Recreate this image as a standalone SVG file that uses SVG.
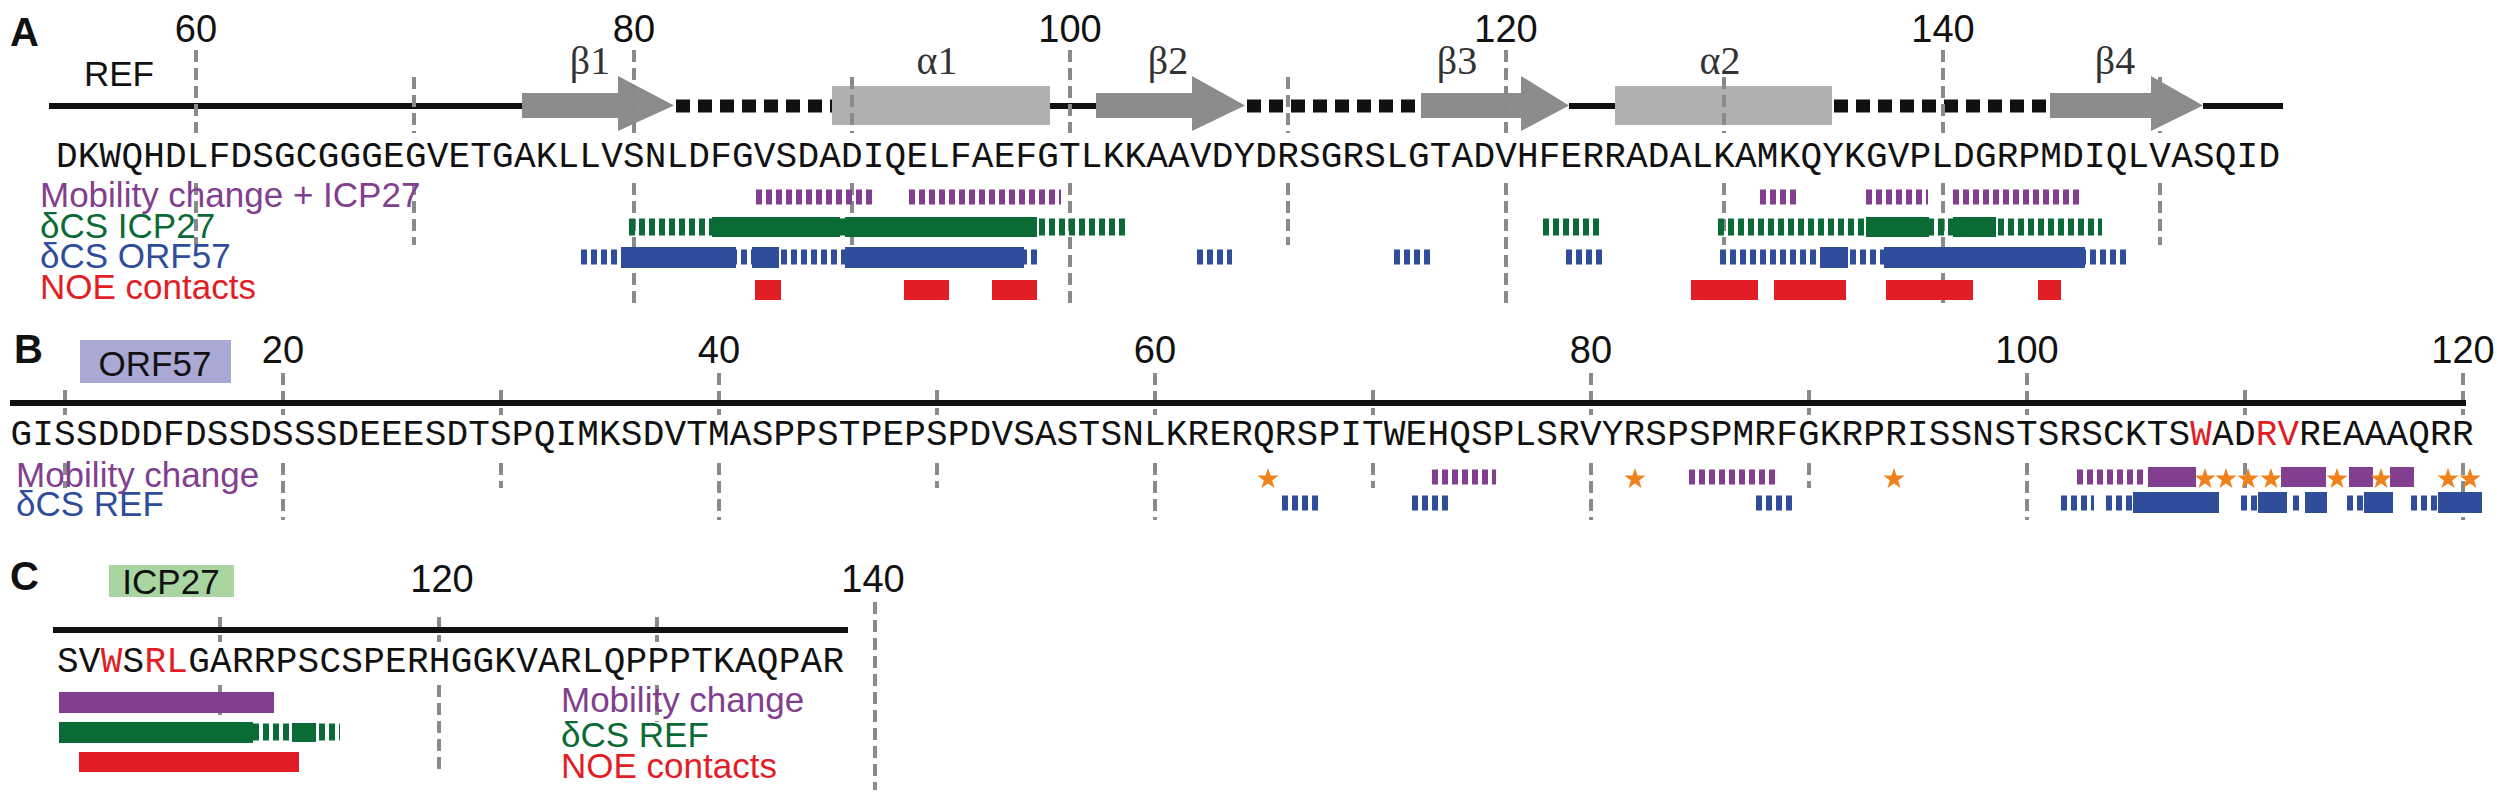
<svg xmlns="http://www.w3.org/2000/svg" width="2507" height="800" viewBox="0 0 2507 800">
<style>
.pl{font-family:"Liberation Sans",Arial,sans-serif;font-weight:bold;font-size:40px;fill:#111}
.num{font-family:"Liberation Sans",Arial,sans-serif;font-size:38px;fill:#111;text-anchor:middle}
.lab{font-family:"Liberation Sans",Arial,sans-serif;font-size:35px}
.gk{font-family:"Liberation Serif","Times New Roman",serif;font-size:40px;fill:#333;text-anchor:middle}
.seq{font-family:"Liberation Mono","Courier New",monospace;font-size:36px;fill:#111}
.grid{stroke:#8a8a8a;stroke-width:4;stroke-dasharray:12 6;fill:none}
.bb{stroke:#111;stroke-width:6}
.loop{stroke:#111;stroke-width:13;stroke-dasharray:14 8}
.beta{fill:#8c8c8c}
.alpha{fill:#b0b0b0}
.pu{fill:#833f8f}.gr{fill:#0b6b36}.bl{fill:#2f4d9a}.rd{fill:#e21d25}
.dpu{stroke:#833f8f;stroke-width:15;stroke-dasharray:6 4}
.dgr{stroke:#0b6b36;stroke-width:17;stroke-dasharray:6 4}
.dbl{stroke:#2f4d9a;stroke-width:15;stroke-dasharray:6 4}
.star{fill:#f0821e}
</style>
<defs>
<path id="st" d="M0,-11 L2.6,-3.6 10.5,-3.4 4.2,1.4 6.5,8.9 0,4.4 -6.5,8.9 -4.2,1.4 -10.5,-3.4 -2.6,-3.6Z"/>
</defs>

<g id="panelA">
<text class="pl" x="10" y="46">A</text>
<text class="num" x="196" y="42">60</text>
<text class="num" x="634" y="42">80</text>
<text class="num" x="1070" y="42">100</text>
<text class="num" x="1506" y="42">120</text>
<text class="num" x="1943" y="42">140</text>
<text class="lab" x="84" y="86" font-size="40" fill="#111">REF</text>
<g id="A-structure">
<line class="bb" x1="49" y1="106" x2="522" y2="106"/>
<line class="bb" x1="1050" y1="106" x2="1096" y2="106"/>
<line class="bb" x1="1569" y1="106" x2="1615" y2="106"/>
<line class="bb" x1="2203" y1="106" x2="2283" y2="106"/>
<line class="loop" x1="676" y1="106" x2="832" y2="106"/>
<line class="loop" x1="1247" y1="106" x2="1421" y2="106"/>
<line class="loop" x1="1834" y1="106" x2="2050" y2="106"/>
<polygon class="beta" points="522,93 618,93 618,76 674,105.5 618,131 618,118 522,118"/>
<polygon class="beta" points="1096,93 1192,93 1192,76 1245,105.5 1192,131 1192,118 1096,118"/>
<polygon class="beta" points="1421,93 1521,93 1521,76 1569,105.5 1521,131 1521,118 1421,118"/>
<polygon class="beta" points="2050,93 2151,93 2151,76 2203,105.5 2151,131 2151,118 2050,118"/>
<rect class="alpha" x="832" y="86" width="218" height="39"/>
<rect class="alpha" x="1615" y="86" width="217" height="39"/>
<text class="gk" x="590" y="74">β1</text>
<text class="gk" x="937" y="74">α1</text>
<text class="gk" x="1168" y="74">β2</text>
<text class="gk" x="1457" y="74">β3</text>
<text class="gk" x="1720" y="74">α2</text>
<text class="gk" x="2115" y="74">β4</text>
</g>
<g id="A-grid">
<path class="grid" d="M196,50V133M196,183V245M414,77V133M414,183V245M634,50V133M634,183V307M852,77V133M852,183V245M1070,50V133M1070,183V307M1288,77V133M1288,183V245M1506,50V133M1506,183V307M1724,77V133M1724,183V245M1943,50V133M1943,183V307M2160,77V133M2160,183V245"/>
</g>
<text class="seq" x="56" y="167" textLength="2224" lengthAdjust="spacing">DKWQHDLFDSGCGGGEGVETGAKLLVSNLDFGVSDADIQELFAEFGTLKKAAVDYDRSGRSLGTADVHFERRADALKAMKQYKGVPLDGRPMDIQLVASQID</text>
<text class="lab" x="40" y="207" fill="#833f8f">Mobility change + ICP27</text>
<text class="lab" x="40" y="238" fill="#0b6b36">δCS ICP27</text>
<text class="lab" x="40" y="268" fill="#2f4d9a">δCS ORF57</text>
<text class="lab" x="40" y="299" fill="#e21d25">NOE contacts</text>
<g id="A-bars">
<line class="dpu" x1="756" y1="197" x2="873" y2="197"/>
<line class="dpu" x1="909" y1="197" x2="1061" y2="197"/>
<line class="dpu" x1="1760" y1="197" x2="1796" y2="197"/>
<line class="dpu" x1="1866" y1="197" x2="1928" y2="197"/>
<line class="dpu" x1="1953" y1="197" x2="2082" y2="197"/>
<line class="dgr" x1="629" y1="227" x2="1125" y2="227"/>
<rect class="gr" x="712" y="217" width="128" height="20"/>
<rect class="gr" x="845" y="217" width="192" height="20"/>
<line class="dgr" x1="1543" y1="227" x2="1599" y2="227"/>
<line class="dgr" x1="1718" y1="227" x2="2102" y2="227"/>
<rect class="gr" x="1866" y="217" width="63" height="20"/>
<rect class="gr" x="1953" y="217" width="43" height="20"/>
<line class="dbl" x1="581" y1="257" x2="1040" y2="257"/>
<rect class="bl" x="621" y="247" width="115" height="21"/>
<rect class="bl" x="752" y="247" width="27" height="21"/>
<rect class="bl" x="845" y="247" width="179" height="21"/>
<line class="dbl" x1="1197" y1="257" x2="1232" y2="257"/>
<line class="dbl" x1="1394" y1="257" x2="1430" y2="257"/>
<line class="dbl" x1="1566" y1="257" x2="1602" y2="257"/>
<line class="dbl" x1="1720" y1="257" x2="2126" y2="257"/>
<rect class="bl" x="1820" y="247" width="28" height="21"/>
<rect class="bl" x="1884" y="247" width="201" height="21"/>
<rect class="rd" x="755" y="280" width="26" height="20"/>
<rect class="rd" x="904" y="280" width="45" height="20"/>
<rect class="rd" x="992" y="280" width="45" height="20"/>
<rect class="rd" x="1691" y="280" width="67" height="20"/>
<rect class="rd" x="1774" y="280" width="72" height="20"/>
<rect class="rd" x="1886" y="280" width="87" height="20"/>
<rect class="rd" x="2038" y="280" width="23" height="20"/>
</g>
</g>

<g id="panelB">
<text class="pl" x="14" y="363">B</text>
<g id="B-ORF57">
<rect x="80" y="340" width="151" height="43" fill="#aaa8d4"/>
<text class="lab" x="155" y="376" text-anchor="middle" fill="#111" font-size="36">ORF57</text>
</g>
<text class="num" x="283" y="363">20</text>
<text class="num" x="719" y="363">40</text>
<text class="num" x="1155" y="363">60</text>
<text class="num" x="1591" y="363">80</text>
<text class="num" x="2027" y="363">100</text>
<text class="num" x="2463" y="363">120</text>
<path class="grid" d="M65,390V415M65,463V488M283,373V415M283,463V520M501,390V415M501,463V488M719,373V415M719,463V520M937,390V415M937,463V488M1155,373V415M1155,463V520M1373,390V415M1373,463V488M1591,373V415M1591,463V520M1809,390V415M1809,463V488M2027,373V415M2027,463V520M2245,390V415M2245,463V488M2463,373V415M2463,463V520"/>
<line class="bb" x1="10" y1="403" x2="2466" y2="403"/>
<text class="seq" x="10.5" y="445" textLength="2463" lengthAdjust="spacing">GISSDDDFDSSDSSSDEEESDTSPQIMKSDVTMASPPSTPEPSPDVSASTSNLKRERQRSPITWEHQSPLSRVYRSPSPMRFGKRPRISSNSTSRSCKTS<tspan fill="#e21d25">W</tspan>AD<tspan fill="#e21d25">RV</tspan>REAAAQRR</text>
<text class="lab" x="16" y="487" fill="#833f8f">Mobility change</text>
<text class="lab" x="16" y="516" fill="#2f4d9a">δCS REF</text>
<g id="B-bars">
<line class="dpu" x1="1432" y1="477" x2="1496" y2="477"/>
<line class="dpu" x1="1689" y1="477" x2="1776" y2="477"/>
<line class="dpu" x1="2077" y1="477" x2="2147" y2="477"/>
<rect class="pu" x="2148" y="467" width="48" height="20"/>
<rect class="pu" x="2281" y="467" width="45" height="20"/>
<rect class="pu" x="2349" y="467" width="24" height="20"/>
<rect class="pu" x="2390" y="467" width="24" height="20"/>
<line class="dbl" x1="1282" y1="503" x2="1319" y2="503"/>
<line class="dbl" x1="1412" y1="503" x2="1448" y2="503"/>
<line class="dbl" x1="1756" y1="503" x2="1792" y2="503"/>
<line class="dbl" x1="2061" y1="503" x2="2094" y2="503"/>
<line class="dbl" x1="2106" y1="503" x2="2133" y2="503"/>
<rect class="bl" x="2133" y="492" width="86" height="21"/>
<line class="dbl" x1="2241" y1="503" x2="2258" y2="503"/>
<rect class="bl" x="2258" y="492" width="29" height="21"/>
<line class="dbl" x1="2293" y1="503" x2="2300" y2="503"/>
<rect class="bl" x="2305" y="492" width="22" height="21"/>
<line class="dbl" x1="2347" y1="503" x2="2364" y2="503"/>
<rect class="bl" x="2364" y="492" width="29" height="21"/>
<line class="dbl" x1="2411" y1="503" x2="2438" y2="503"/>
<rect class="bl" x="2438" y="492" width="44" height="21"/>
<g class="star">
<use href="#st" x="1268" y="479"/>
<use href="#st" x="1635" y="479"/>
<use href="#st" x="1894" y="479"/>
<use href="#st" x="2205" y="479"/>
<use href="#st" x="2226" y="479"/>
<use href="#st" x="2248" y="479"/>
<use href="#st" x="2271" y="479"/>
<use href="#st" x="2337" y="479"/>
<use href="#st" x="2381" y="479"/>
<use href="#st" x="2448" y="479"/>
<use href="#st" x="2470" y="479"/>
</g>
</g>
</g>

<g id="panelC">
<text class="pl" x="10" y="590">C</text>
<g id="C-ICP27">
<rect x="109" y="565" width="125" height="32" fill="#a8d5a0"/>
<text class="lab" x="171" y="594" text-anchor="middle" fill="#111">ICP27</text>
</g>
<text class="num" x="442" y="592">120</text>
<text class="num" x="873" y="592">140</text>
<path class="grid" d="M220,617V642M220,685V717M439,617V642M439,685V770M657,617V642M657,685V722M875,602V790"/>
<line class="bb" x1="53" y1="630" x2="848" y2="630"/>
<text class="seq" x="57" y="672" textLength="787" lengthAdjust="spacing">SV<tspan fill="#e21d25">W</tspan>S<tspan fill="#e21d25">RL</tspan>GARRPSCSPERHGGKVARLQPPPTKAQPAR</text>
<rect class="pu" x="59" y="692" width="215" height="21"/>
<rect class="gr" x="59" y="722" width="194" height="21"/>
<line class="dgr" x1="253" y1="732" x2="292" y2="732"/>
<rect class="gr" x="292" y="723" width="24" height="19"/>
<line class="dgr" x1="319" y1="732" x2="340" y2="732"/>
<rect class="rd" x="79" y="752" width="220" height="20"/>
<text class="lab" x="561" y="712" fill="#833f8f">Mobility change</text>
<text class="lab" x="561" y="747" fill="#0b6b36">δCS REF</text>
<text class="lab" x="561" y="778" fill="#e21d25">NOE contacts</text>
</g>
<g id="connectors"/>
</svg>
